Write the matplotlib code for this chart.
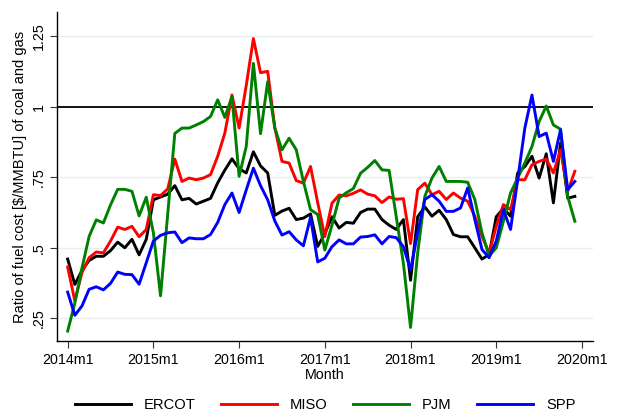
import matplotlib
matplotlib.use('Agg')
import matplotlib.pyplot as plt
import numpy as np

plt.rcParams['font.family'] = ['Liberation Sans', 'DejaVu Sans']

# Monthly ratio, 2014m1 .. 2019m12
ercot = [0.46, 0.37, 0.42, 0.455, 0.47, 0.47, 0.49, 0.52, 0.50, 0.53, 0.475, 0.53,
         0.67, 0.68, 0.69, 0.72, 0.67, 0.675, 0.655, 0.665, 0.675, 0.73, 0.775, 0.815,
         0.78, 0.765, 0.84, 0.79, 0.765, 0.615, 0.63, 0.64, 0.60, 0.605, 0.62, 0.505,
         0.55, 0.61, 0.57, 0.59, 0.587, 0.625, 0.637, 0.637, 0.60, 0.58, 0.565, 0.60,
         0.385, 0.61, 0.645, 0.612, 0.633, 0.60, 0.547, 0.539, 0.539, 0.50, 0.46, 0.476,
         0.61, 0.64, 0.612, 0.765, 0.788, 0.824, 0.747, 0.833, 0.659, 0.871, 0.676, 0.682]

miso = [0.432, 0.312, 0.412, 0.465, 0.485, 0.482, 0.524, 0.573, 0.565, 0.576, 0.539, 0.565,
        0.688, 0.685, 0.708, 0.814, 0.735, 0.747, 0.741, 0.747, 0.759, 0.824, 0.906, 1.041,
        0.924, 1.075, 1.241, 1.12, 1.125, 0.925, 0.806, 0.80, 0.738, 0.729, 0.788, 0.66,
        0.54, 0.658, 0.687, 0.684, 0.693, 0.705, 0.69, 0.684, 0.66, 0.68, 0.672, 0.674,
        0.515, 0.706, 0.729, 0.688, 0.70, 0.671, 0.694, 0.676, 0.665, 0.612, 0.541, 0.482,
        0.576, 0.653, 0.635, 0.741, 0.741, 0.794, 0.806, 0.814, 0.765, 0.847, 0.70, 0.771]

pjm = [0.205, 0.304, 0.428, 0.54, 0.599, 0.588, 0.652, 0.707, 0.707, 0.70, 0.613, 0.679,
       0.553, 0.33, 0.618, 0.905, 0.924, 0.924, 0.935, 0.947, 0.965, 1.024, 0.962, 1.035,
       0.753, 0.859, 1.153, 0.904, 1.088, 0.924, 0.847, 0.888, 0.847, 0.735, 0.635, 0.618,
       0.492, 0.58, 0.676, 0.695, 0.71, 0.764, 0.785, 0.809, 0.776, 0.774, 0.61, 0.445,
       0.218, 0.482, 0.682, 0.747, 0.788, 0.735, 0.735, 0.735, 0.732, 0.671, 0.553, 0.471,
       0.50, 0.594, 0.694, 0.747, 0.80, 0.859, 0.947, 1.002, 0.935, 0.92, 0.682, 0.594]

spp = [0.343, 0.261, 0.294, 0.353, 0.362, 0.351, 0.374, 0.414, 0.406, 0.405, 0.371, 0.447,
       0.524, 0.544, 0.553, 0.556, 0.518, 0.535, 0.532, 0.532, 0.547, 0.59, 0.653, 0.694,
       0.625, 0.705, 0.782, 0.72, 0.67, 0.595, 0.545, 0.557, 0.528, 0.507, 0.608, 0.45,
       0.463, 0.504, 0.528, 0.514, 0.514, 0.538, 0.54, 0.546, 0.514, 0.54, 0.536, 0.504,
       0.422, 0.553, 0.671, 0.688, 0.665, 0.629, 0.629, 0.641, 0.712, 0.60, 0.494, 0.465,
       0.524, 0.635, 0.565, 0.741, 0.924, 1.041, 0.894, 0.906, 0.806, 0.918, 0.706, 0.735]

series = [('ERCOT', ercot, 'black'), ('MISO', miso, 'red'),
          ('PJM', pjm, 'green'), ('SPP', spp, 'blue')]

x_ticklabels = ['2014m1', '2015m1', '2016m1', '2017m1', '2018m1', '2019m1', '2020m1']
y_ticks = [0.25, 0.5, 0.75, 1.0, 1.25]
y_ticklabels = ['.25', '.5', '.75', '1', '1.25']

months = np.arange(len(ercot))

fig = plt.figure(figsize=(6.17, 4.17), dpi=100)
ax = fig.add_axes([0.0929, 0.1823, 0.8677, 0.7889])

# grid lines
for yv in y_ticks:
    if yv != 1.0:
        ax.axhline(yv, color='#e6eef2', linewidth=1.0, zorder=0)
ax.axhline(1.0, color='black', linewidth=1.3, zorder=1)

for name, vals, col in series:
    ax.plot(months, vals, color=col, linewidth=2.1, label=name, zorder=2)

ax.set_xlim(-1.45, 73.5)
ax.set_ylim(0.170, 1.335)
ax.set_xticks(np.arange(0, 73, 12))
ax.set_xticklabels(x_ticklabels, fontsize=10.3)
ax.set_yticks(y_ticks)
ax.set_yticklabels(y_ticklabels, fontsize=10.3, rotation=90, va='center')
ax.tick_params(length=5, width=0.8, color='#333333')
ax.spines['top'].set_visible(False)
ax.spines['right'].set_visible(False)
ax.spines['left'].set_linewidth(1.0)
ax.spines['bottom'].set_linewidth(1.0)

ax.set_xlabel('Month', fontsize=10.3, labelpad=1)
ax.set_ylabel('Ratio of fuel cost [$/MMBTU] of coal and gas', fontsize=10.5, labelpad=3)

fig.legend(loc='center', bbox_to_anchor=(0.527, 0.028), ncol=4, frameon=False,
           fontsize=10.6, handlelength=3.8, handletextpad=0.9, columnspacing=1.7)

plt.savefig('out.png', dpi=100)
